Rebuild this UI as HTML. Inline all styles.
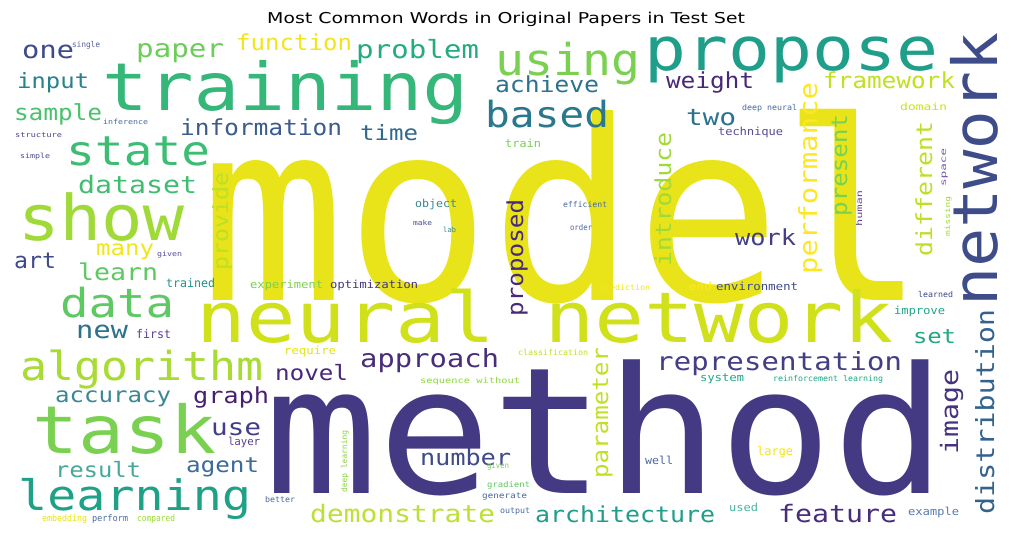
<!DOCTYPE html>
<html><head><meta charset="utf-8"><style>
html,body{margin:0;padding:0;background:#fff;width:1011px;height:538px;overflow:hidden}
svg{display:block}
text{font-family:"DejaVu Sans Mono","Liberation Mono",monospace}
.t{font-family:"DejaVu Sans","Liberation Sans",sans-serif}
</style></head><body>
<svg width="1011" height="538" viewBox="0 0 1011 538" xmlns="http://www.w3.org/2000/svg" text-rendering="geometricPrecision">
<text class="t" x="267" y="23" font-size="15" fill="#000" textLength="478" lengthAdjust="spacingAndGlyphs">Most Common Words in Original Papers in Test Set</text>

<text x="200" y="300" font-size="250" fill="#e8e419" textLength="726" lengthAdjust="spacingAndGlyphs">model</text>
<text x="264" y="493" font-size="176" fill="#443983" textLength="682" lengthAdjust="spacingAndGlyphs">method</text>
<text x="102" y="110" font-size="66" fill="#35b779" textLength="366" lengthAdjust="spacingAndGlyphs">training</text>
<text x="644" y="70" font-size="60" fill="#1f9e89" textLength="294" lengthAdjust="spacingAndGlyphs">propose</text>
<text x="495" y="75" font-size="44" fill="#7ad151" textLength="145" lengthAdjust="spacingAndGlyphs">using</text>
<text transform="translate(997,306) rotate(-90)" font-size="62" fill="#3e4c8a" textLength="274" lengthAdjust="spacingAndGlyphs">network</text>
<text x="196" y="342" font-size="70" fill="#d0e11c" textLength="697" lengthAdjust="spacingAndGlyphs">neural network</text>
<text x="18" y="240" font-size="63" fill="#a0da39" textLength="166" lengthAdjust="spacingAndGlyphs">show</text>
<text x="66" y="165" font-size="41" fill="#3dbc74" textLength="144" lengthAdjust="spacingAndGlyphs">state</text>
<text x="60" y="317" font-size="40" fill="#5ec962" textLength="114" lengthAdjust="spacingAndGlyphs">data</text>
<text x="20" y="380" font-size="40" fill="#a8db34" textLength="243" lengthAdjust="spacingAndGlyphs">algorithm</text>
<text x="32" y="453" font-size="66" fill="#7ad151" textLength="184" lengthAdjust="spacingAndGlyphs">task</text>
<text x="18" y="510" font-size="42" fill="#1fa187" textLength="233" lengthAdjust="spacingAndGlyphs">learning</text>
<text x="485" y="127" font-size="36" fill="#2a788e" textLength="124" lengthAdjust="spacingAndGlyphs">based</text>

<text x="22" y="58" font-size="24" fill="#3e4a89" textLength="52" lengthAdjust="spacingAndGlyphs">one</text>
<text x="136" y="57" font-size="25" fill="#6ccd5a" textLength="88" lengthAdjust="spacingAndGlyphs">paper</text>
<text x="236" y="50" font-size="22" fill="#f2e51d" textLength="116" lengthAdjust="spacingAndGlyphs">function</text>
<text x="356" y="58" font-size="25" fill="#25ab82" textLength="123" lengthAdjust="spacingAndGlyphs">problem</text>
<text x="17" y="88" font-size="21" fill="#26828e" textLength="72" lengthAdjust="spacingAndGlyphs">input</text>
<text x="14" y="120" font-size="22" fill="#4ac16d" textLength="88" lengthAdjust="spacingAndGlyphs">sample</text>
<text x="180" y="135" font-size="22" fill="#3b5c8c" textLength="162" lengthAdjust="spacingAndGlyphs">information</text>
<text x="360" y="140" font-size="21" fill="#31688e" textLength="58" lengthAdjust="spacingAndGlyphs">time</text>
<text x="78" y="193" font-size="24" fill="#40bd72" textLength="119" lengthAdjust="spacingAndGlyphs">dataset</text>
<text transform="translate(228,270) rotate(-90)" font-size="21" fill="#bddf26" textLength="98" lengthAdjust="spacingAndGlyphs">provide</text>
<text x="96" y="255" font-size="21" fill="#f1e51d" textLength="58" lengthAdjust="spacingAndGlyphs">many</text>
<text x="14" y="268" font-size="22" fill="#3e4a89" textLength="42" lengthAdjust="spacingAndGlyphs">art</text>
<text x="78" y="280" font-size="23" fill="#5ec962" textLength="80" lengthAdjust="spacingAndGlyphs">learn</text>
<text x="76" y="338" font-size="24" fill="#2c728e" textLength="52" lengthAdjust="spacingAndGlyphs">new</text>
<text x="360" y="367" font-size="25" fill="#472d7b" textLength="139" lengthAdjust="spacingAndGlyphs">approach</text>
<text x="275" y="380" font-size="21" fill="#482878" textLength="73" lengthAdjust="spacingAndGlyphs">novel</text>
<text x="55" y="402" font-size="21" fill="#3b8795" textLength="116" lengthAdjust="spacingAndGlyphs">accuracy</text>
<text x="193" y="403" font-size="22" fill="#481f70" textLength="76" lengthAdjust="spacingAndGlyphs">graph</text>
<text x="211" y="435" font-size="23" fill="#433e85" textLength="50" lengthAdjust="spacingAndGlyphs">use</text>
<text x="55" y="477" font-size="21" fill="#48a89a" textLength="86" lengthAdjust="spacingAndGlyphs">result</text>
<text x="186" y="472" font-size="21" fill="#3d6a98" textLength="73" lengthAdjust="spacingAndGlyphs">agent</text>
<text x="420" y="465" font-size="22" fill="#3e4a89" textLength="91" lengthAdjust="spacingAndGlyphs">number</text>
<text x="310" y="522" font-size="24" fill="#bde038" textLength="185" lengthAdjust="spacingAndGlyphs">demonstrate</text>
<text x="495" y="92" font-size="22" fill="#2c728e" textLength="104" lengthAdjust="spacingAndGlyphs">achieve</text>
<text x="666" y="88" font-size="22" fill="#482878" textLength="88" lengthAdjust="spacingAndGlyphs">weight</text>
<text x="823" y="88" font-size="22" fill="#c2df23" textLength="132" lengthAdjust="spacingAndGlyphs">framework</text>
<text x="686" y="125" font-size="23" fill="#2c728e" textLength="50" lengthAdjust="spacingAndGlyphs">two</text>
<text x="735" y="245" font-size="22" fill="#433e85" textLength="61" lengthAdjust="spacingAndGlyphs">work</text>
<text transform="translate(817,274) rotate(-90)" font-size="25" fill="#fde725" textLength="192" lengthAdjust="spacingAndGlyphs">performance</text>
<text transform="translate(847,216) rotate(-90)" font-size="22" fill="#7ad151" textLength="102" lengthAdjust="spacingAndGlyphs">present</text>
<text transform="translate(932,256) rotate(-90)" font-size="22" fill="#bddf26" textLength="135" lengthAdjust="spacingAndGlyphs">different</text>
<text transform="translate(671,266) rotate(-90)" font-size="22" fill="#a0da39" textLength="134" lengthAdjust="spacingAndGlyphs">introduce</text>
<text transform="translate(523,316) rotate(-90)" font-size="22" fill="#482878" textLength="117" lengthAdjust="spacingAndGlyphs">proposed</text>
<text x="656" y="370" font-size="25" fill="#433e85" textLength="246" lengthAdjust="spacingAndGlyphs">representation</text>
<text x="913" y="343" font-size="20" fill="#22a884" textLength="43" lengthAdjust="spacingAndGlyphs">set</text>
<text transform="translate(608,478) rotate(-90)" font-size="22" fill="#c2df23" textLength="131" lengthAdjust="spacingAndGlyphs">parameter</text>
<text transform="translate(958,454) rotate(-90)" font-size="24" fill="#46327e" textLength="85" lengthAdjust="spacingAndGlyphs">image</text>
<text transform="translate(994,514) rotate(-90)" font-size="25" fill="#33638d" textLength="205" lengthAdjust="spacingAndGlyphs">distribution</text>
<text x="535" y="522" font-size="22" fill="#1f9e89" textLength="180" lengthAdjust="spacingAndGlyphs">architecture</text>
<text x="778" y="522" font-size="24" fill="#472d7b" textLength="119" lengthAdjust="spacingAndGlyphs">feature</text>

<text x="72" y="47" font-size="8" fill="#5a5fa0" textLength="28" lengthAdjust="spacingAndGlyphs">single</text>
<text x="103" y="124" font-size="7" fill="#4a6aa0" textLength="45" lengthAdjust="spacingAndGlyphs">inference</text>
<text x="15" y="137" font-size="7" fill="#4a4a90" textLength="47" lengthAdjust="spacingAndGlyphs">structure</text>
<text x="20" y="158" font-size="7" fill="#4a4a90" textLength="30" lengthAdjust="spacingAndGlyphs">simple</text>
<text x="157" y="256" font-size="7" fill="#5a4a9a" textLength="25" lengthAdjust="spacingAndGlyphs">given</text>
<text x="166" y="287" font-size="12" fill="#21918c" textLength="49" lengthAdjust="spacingAndGlyphs">trained</text>
<text x="250" y="288" font-size="11" fill="#7ad151" textLength="73" lengthAdjust="spacingAndGlyphs">experiment</text>
<text x="330" y="288" font-size="11" fill="#46337e" textLength="88" lengthAdjust="spacingAndGlyphs">optimization</text>
<text x="136" y="338" font-size="12" fill="#5b3c8f" textLength="35" lengthAdjust="spacingAndGlyphs">first</text>
<text x="284" y="354" font-size="11" fill="#e4e418" textLength="52" lengthAdjust="spacingAndGlyphs">require</text>
<text x="420" y="383" font-size="8" fill="#8fd744" textLength="100" lengthAdjust="spacingAndGlyphs">sequence without</text>
<text x="228" y="445" font-size="11" fill="#5b3c8f" textLength="32" lengthAdjust="spacingAndGlyphs">layer</text>
<text transform="translate(347,492) rotate(-90)" font-size="8" fill="#8fd744" textLength="62" lengthAdjust="spacingAndGlyphs">deep learning</text>
<text x="265" y="502" font-size="8" fill="#4a6aa0" textLength="30" lengthAdjust="spacingAndGlyphs">better</text>
<text x="42" y="521" font-size="9" fill="#e8e419" textLength="45" lengthAdjust="spacingAndGlyphs">embedding</text>
<text x="92" y="521" font-size="9" fill="#4a6aa0" textLength="36" lengthAdjust="spacingAndGlyphs">perform</text>
<text x="137" y="521" font-size="9" fill="#a0da39" textLength="38" lengthAdjust="spacingAndGlyphs">compared</text>
<text x="487" y="468" font-size="8" fill="#7ad151" textLength="22" lengthAdjust="spacingAndGlyphs">given</text>
<text x="487" y="487" font-size="8" fill="#5ec962" textLength="43" lengthAdjust="spacingAndGlyphs">gradient</text>
<text x="482" y="498" font-size="8" fill="#4a6aa0" textLength="45" lengthAdjust="spacingAndGlyphs">generate</text>
<text x="500" y="513" font-size="8" fill="#4a6aa0" textLength="30" lengthAdjust="spacingAndGlyphs">output</text>
<text x="415" y="207" font-size="11" fill="#3b8795" textLength="42" lengthAdjust="spacingAndGlyphs">object</text>
<text x="413" y="225" font-size="7" fill="#4a4a90" textLength="19" lengthAdjust="spacingAndGlyphs">make</text>
<text x="443" y="232" font-size="7" fill="#3b8795" textLength="13" lengthAdjust="spacingAndGlyphs">lab</text>
<text x="505" y="147" font-size="11" fill="#7ad151" textLength="36" lengthAdjust="spacingAndGlyphs">train</text>
<text x="742" y="110" font-size="8" fill="#4a6aa0" textLength="55" lengthAdjust="spacingAndGlyphs">deep neural</text>
<text x="718" y="135" font-size="11" fill="#5a4a9a" textLength="65" lengthAdjust="spacingAndGlyphs">technique</text>
<text x="900" y="110" font-size="10" fill="#d0e11c" textLength="47" lengthAdjust="spacingAndGlyphs">domain</text>
<text x="563" y="207" font-size="8" fill="#4a6aa0" textLength="44" lengthAdjust="spacingAndGlyphs">efficient</text>
<text x="570" y="230" font-size="8" fill="#4a6aa0" textLength="22" lengthAdjust="spacingAndGlyphs">order</text>
<text transform="translate(862,226) rotate(-90)" font-size="8" fill="#6a4a9a" textLength="36" lengthAdjust="spacingAndGlyphs">human</text>
<text transform="translate(946,186) rotate(-90)" font-size="8" fill="#7a5aaa" textLength="38" lengthAdjust="spacingAndGlyphs">space</text>
<text transform="translate(950,236) rotate(-90)" font-size="7" fill="#a0da39" textLength="40" lengthAdjust="spacingAndGlyphs">missing</text>
<text x="600" y="290" font-size="8" fill="#f2e51d" textLength="50" lengthAdjust="spacingAndGlyphs">prediction</text>
<text x="689" y="290" font-size="11" fill="#fde725" textLength="23" lengthAdjust="spacingAndGlyphs">end</text>
<text x="716" y="290" font-size="11" fill="#3d4e8a" textLength="82" lengthAdjust="spacingAndGlyphs">environment</text>
<text x="918" y="297" font-size="8" fill="#3e4a89" textLength="35" lengthAdjust="spacingAndGlyphs">learned</text>
<text x="894" y="314" font-size="11" fill="#22a884" textLength="51" lengthAdjust="spacingAndGlyphs">improve</text>
<text x="518" y="355" font-size="8" fill="#c2df23" textLength="70" lengthAdjust="spacingAndGlyphs">classification</text>
<text x="700" y="381" font-size="11" fill="#22a884" textLength="44" lengthAdjust="spacingAndGlyphs">system</text>
<text x="773" y="381" font-size="8" fill="#22a884" textLength="110" lengthAdjust="spacingAndGlyphs">reinforcement learning</text>
<text x="757" y="455" font-size="12" fill="#f2e51d" textLength="36" lengthAdjust="spacingAndGlyphs">large</text>
<text x="645" y="464" font-size="11" fill="#4a6aa0" textLength="28" lengthAdjust="spacingAndGlyphs">well</text>
<text x="729" y="511" font-size="11" fill="#4ab5a0" textLength="29" lengthAdjust="spacingAndGlyphs">used</text>
<text x="908" y="515" font-size="11" fill="#5a7ab0" textLength="51" lengthAdjust="spacingAndGlyphs">example</text>
</svg>
</body></html>
